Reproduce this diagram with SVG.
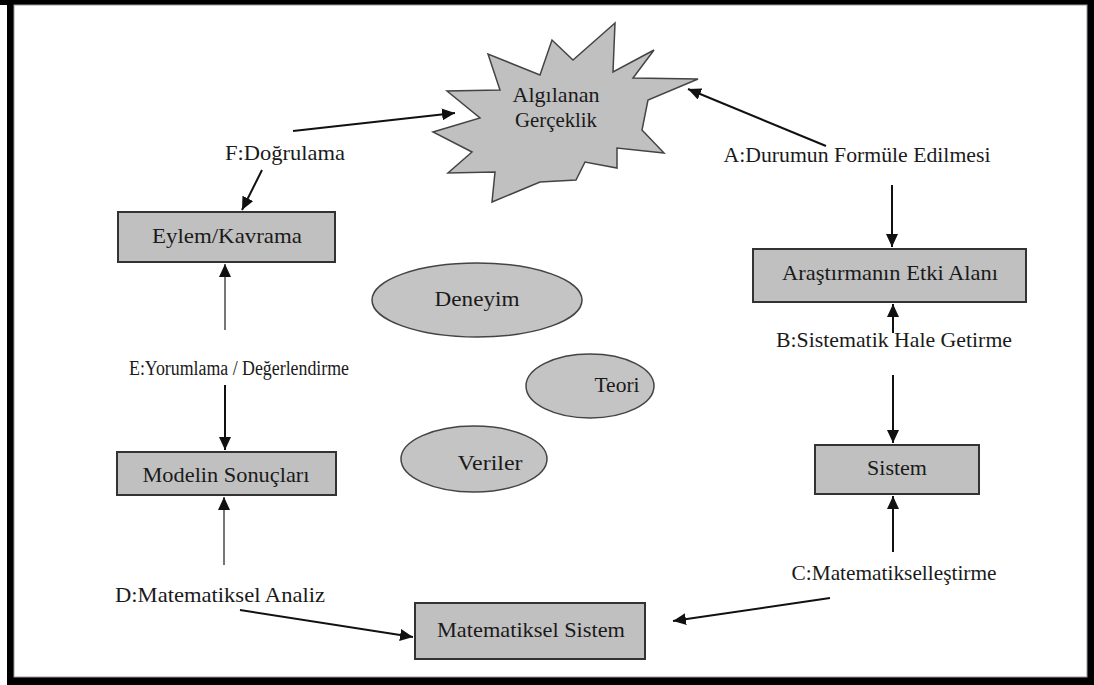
<svg xmlns="http://www.w3.org/2000/svg" width="1094" height="685" viewBox="0 0 1094 685">
<defs>
<marker id="ah" markerUnits="userSpaceOnUse" markerWidth="14" markerHeight="12" refX="13" refY="6" orient="auto">
<path d="M0,0 L13,6 L0,12 z" fill="#111"/>
</marker>
<style>
.t{font-family:"Liberation Serif","Times New Roman",serif;font-size:21px;fill:#1a1a1a;text-anchor:middle}
.box{fill:#c0c0c0;stroke:#333;stroke-width:2}
.ell{fill:#c4c4c4;stroke:#444;stroke-width:1.5}
.ln{stroke:#111;stroke-width:2;fill:none;marker-end:url(#ah)}
.lg{stroke:#777;stroke-width:2;fill:none;marker-end:url(#ah)}
</style>
</defs>
<rect x="0" y="0" width="1094" height="685" fill="#000"/>
<rect x="0" y="5" width="7" height="680" fill="#fff"/>
<rect x="14" y="5" width="1073" height="672" fill="#fff" stroke="#999" stroke-width="1"/>

<g id="star">
<polygon points="615,23 573,60 552,40 540,75 488,54 500,90 447,91 480,118 433,132 472,152 448,173 495,172 492,202 540,182 576,180 585,162 617,168 617,148 664,153 642,130 648,100 698,79 633,78 654,50 613,72" fill="#c0c0c0" stroke="#444" stroke-width="1.5"/>
<text class="t" x="556" y="102" textLength="87" lengthAdjust="spacingAndGlyphs">Algılanan</text>
<text class="t" x="556" y="127" textLength="82" lengthAdjust="spacingAndGlyphs">Gerçeklik</text>
</g>

<g id="label-F"><text class="t" x="285" y="160" textLength="120" lengthAdjust="spacingAndGlyphs">F:Doğrulama</text></g>
<g id="label-A"><text class="t" x="857" y="162" textLength="267" lengthAdjust="spacingAndGlyphs">A:Durumun Formüle Edilmesi</text></g>
<g id="label-E"><text class="t" x="239" y="375" style="font-size:20px" textLength="220" lengthAdjust="spacingAndGlyphs">E:Yorumlama / Değerlendirme</text></g>
<g id="label-B"><text class="t" x="894" y="347" textLength="236" lengthAdjust="spacingAndGlyphs">B:Sistematik Hale Getirme</text></g>
<g id="label-D"><text class="t" x="220" y="602" textLength="210" lengthAdjust="spacingAndGlyphs">D:Matematiksel Analiz</text></g>
<g id="label-C"><text class="t" x="894" y="580" textLength="205" lengthAdjust="spacingAndGlyphs">C:Matematikselleştirme</text></g>

<g id="eylem">
<rect class="box" x="118" y="212" width="217" height="50"/>
<text class="t" x="227" y="243" textLength="150" lengthAdjust="spacingAndGlyphs">Eylem/Kavrama</text>
</g>
<g id="modelin">
<rect class="box" x="117" y="452" width="219" height="43"/>
<text class="t" x="226" y="482" textLength="167" lengthAdjust="spacingAndGlyphs">Modelin Sonuçları</text>
</g>
<g id="matsis">
<rect class="box" x="415" y="603" width="230" height="56"/>
<text class="t" x="531" y="637" textLength="188" lengthAdjust="spacingAndGlyphs">Matematiksel Sistem</text>
</g>
<g id="sistem">
<rect class="box" x="815" y="445" width="164" height="49"/>
<text class="t" x="897" y="475" textLength="60" lengthAdjust="spacingAndGlyphs">Sistem</text>
</g>
<g id="arastirma">
<rect class="box" x="753" y="249" width="273" height="53"/>
<text class="t" x="890" y="280" textLength="216" lengthAdjust="spacingAndGlyphs">Araştırmanın Etki Alanı</text>
</g>

<g id="deneyim">
<ellipse class="ell" cx="477" cy="300" rx="105" ry="37"/>
<text class="t" x="477" y="306" textLength="85" lengthAdjust="spacingAndGlyphs">Deneyim</text>
</g>
<g id="teori">
<ellipse class="ell" cx="590" cy="386" rx="64" ry="32"/>
<text class="t" x="617" y="392" textLength="45" lengthAdjust="spacingAndGlyphs">Teori</text>
</g>
<g id="veriler">
<ellipse class="ell" cx="474" cy="459" rx="73" ry="33"/>
<text class="t" x="490" y="470" textLength="65" lengthAdjust="spacingAndGlyphs">Veriler</text>
</g>

<g id="connectors">
<path class="ln" d="M293,131 L455,113"/>
<path class="ln" d="M826,146 L688,89"/>
<path class="ln" d="M262,170 L242,210"/>
<path class="lg" d="M225,330 L225,264"/>
<path class="ln" d="M225,385 L225,450"/>
<path class="lg" d="M224,565 L224,497"/>
<path class="ln" d="M240,610 L413,637"/>
<path class="ln" d="M830,598 L673,621"/>
<path class="ln" d="M893,552 L893,496"/>
<path class="ln" d="M893,375 L893,443"/>
<path class="ln" d="M893,333 L893,304"/>
<path class="ln" d="M892,185 L892,247"/>
</g>
</svg>
